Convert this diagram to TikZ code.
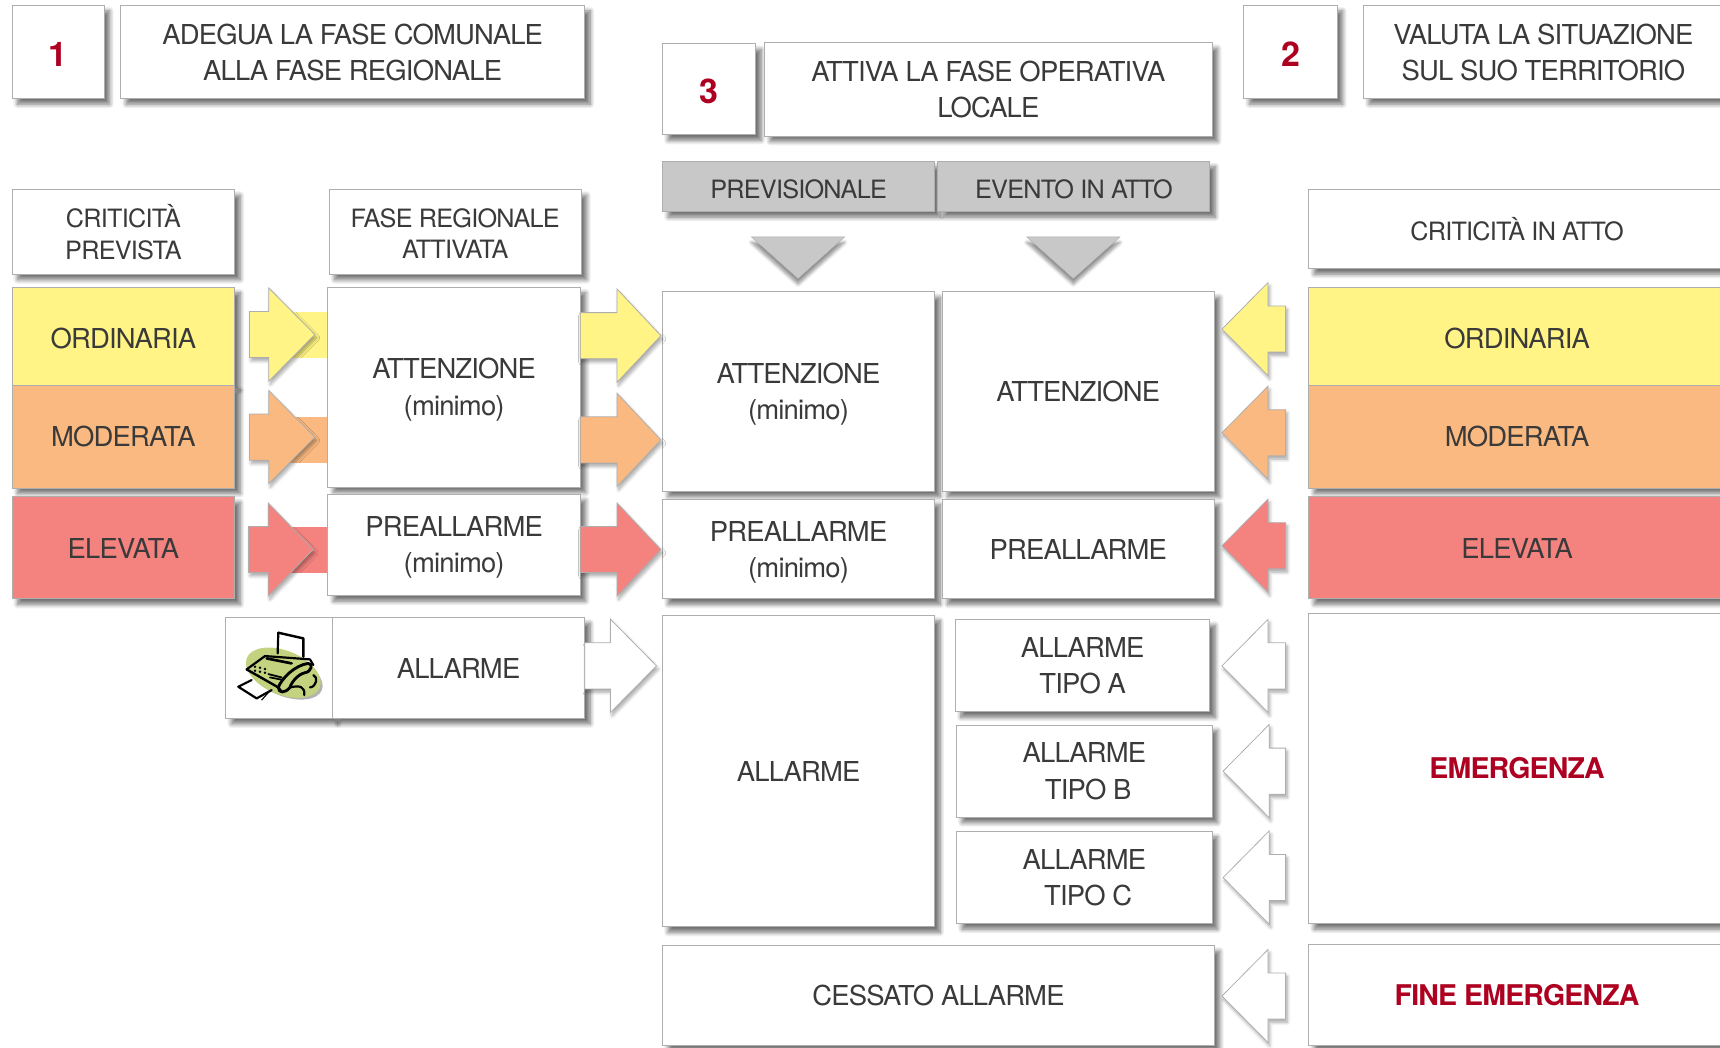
\documentclass[tikz,border=0pt]{standalone}
\usepackage{fontspec}
\setmainfont{TeX Gyre Heros}[LetterSpace=-3]
\usetikzlibrary{calc,shadows.blur}
\definecolor{edge}{HTML}{AEAEAE}
\definecolor{ink}{HTML}{3A3A3A}
\definecolor{hot}{HTML}{AE0020}
\definecolor{yel}{HTML}{FFF485}
\definecolor{ora}{HTML}{FAB980}
\definecolor{rdd}{HTML}{F4827F}
\definecolor{gre}{HTML}{C8C8C8}
\definecolor{fax}{HTML}{C3D27E}
\newcommand\dn[1]{\rule{0pt}{\dimexpr 18pt+#1pt*2\relax}}
\tikzset{
  softshadow/.style={blur shadow={shadow xshift=5pt,shadow yshift=-5pt,shadow blur radius=4pt,shadow blur steps=8,shadow opacity=55,shadow scale=1}},
  faintshadow/.style={blur shadow={shadow xshift=1.5pt,shadow yshift=-3pt,shadow blur radius=3pt,shadow blur steps=6,shadow opacity=35,shadow scale=1}},
  downshadow/.style={blur shadow={shadow xshift=0pt,shadow yshift=-5pt,shadow blur radius=3pt,shadow blur steps=6,shadow opacity=45,shadow scale=1}},
  box/.style={draw=edge,line width=.9pt,fill=white,softshadow,inner sep=0pt,outer sep=0pt,anchor=north west,text=ink,align=center,font=\fontsize{25}{33}\selectfont},
  small/.style={font=\fontsize{23}{29}\selectfont},
  num/.style={text=hot,font=\fontsize{31}{33}\bfseries\selectfont},
  alert/.style={text=hot,font=\fontsize{26}{33}\bfseries\selectfont},
  yelbox/.style={fill=yel},
  orabox/.style={fill=ora},
  rddbox/.style={fill=rdd},
  grebox/.style={fill=gre},
  blockarrow/.style={draw=edge,line width=.7pt,faintshadow},
}
\newcommand\bx[7][]{\node[box,#1,minimum width={(#4-#2)*1pt},minimum height={(#5-#3)*1pt}] (#6) at (#2,#3) {#7};}
% colour, from, to, y, signed neck length, half head height
\newcommand\barrow[6]{%
  \coordinate (s) at (#2);\coordinate (e) at (#3);\coordinate (n) at ($(e)+(#5,0)$);
  \draw[blockarrow,fill=#1] (s |- 0,#4-21) -- (n |- 0,#4-21) -- (n |- 0,#4-#6) -- (e |- 0,#4) -- (n |- 0,#4+#6) -- (n |- 0,#4+21) -- (s |- 0,#4+21) -- cycle;}
\begin{document}
\begin{tikzpicture}[x=1pt,y=-1pt]
\useasboundingbox (0,0) rectangle (1568,955);
% top headings
\bx[num]{11}{5}{95}{90}{n1}{\rule{0pt}{26pt}1}
\bx{110}{5}{533}{90}{t1}{\dn{.5}ADEGUA LA FASE COMUNALE\\ALLA FASE REGIONALE}
\bx[num]{604}{40}{689}{123}{n3}{\rule{0pt}{26pt}3}
\bx{697}{39}{1105}{124}{t3}{ATTIVA LA FASE OPERATIVA\\LOCALE}
\bx[num]{1134}{5}{1219}{90}{n2}{\rule{0pt}{26pt}2}
\bx{1243}{5}{1571}{90}{t2}{\dn{.5}VALUTA LA SITUAZIONE\\SUL SUO TERRITORIO}
\bx[grebox,small]{604}{147}{852}{193}{prev}{\dn{2}PREVISIONALE}
\bx[grebox,small]{855}{147}{1103}{193}{evat}{\dn{2}EVENTO IN ATTO}
\draw[draw=edge,fill=gre,downshadow] (685,216) -- (770,216) -- (727.5,254) -- cycle;
\draw[draw=edge,fill=gre,downshadow] (936,216) -- (1021,216) -- (978.5,254) -- cycle;
% left column
\bx[small]{11}{173}{214}{250}{lhead}{CRITICITÀ\\PREVISTA}
\bx[yelbox]{11}{262}{214}{351}{lo}{\dn{2}ORDINARIA}
\bx[orabox]{11}{351}{214}{445}{lm}{MODERATA}
\bx[rddbox]{11}{453}{214}{546}{le}{\dn{1}ELEVATA}
% regional column: shafts first
\fill[yel] (262,284.5) rectangle (300,326);
\fill[ora] (262,380) rectangle (300,422);
\fill[rdd] (262,480) rectangle (300,522);
\bx[small]{300}{173}{530}{250}{rhead}{\dn{1}FASE REGIONALE\\ATTIVATA}
\bx{299}{262}{529}{444}{ra}{\dn{2.5}ATTENZIONE\\(minimo)}
\bx{299}{451}{529}{543}{rp}{\dn{2.5}PREALLARME\\(minimo)}
\bx{206}{563}{303}{655}{rf}{}
\bx{303}{563}{533}{655}{rl}{ALLARME}
% middle
\bx{604}{266}{852}{448}{ma}{\dn{3}ATTENZIONE\\(minimo)}
\bx{859}{266}{1107}{448}{na}{ATTENZIONE}
\bx{604}{455}{852}{546}{mp}{\dn{3}PREALLARME\\(minimo)}
\bx{859}{455}{1107}{546}{np}{PREALLARME}
\bx{604}{561}{852}{845}{ml}{ALLARME}
\bx{871}{565}{1103}{649}{nA}{ALLARME\\TIPO A}
\bx{872}{661}{1105}{745}{nB}{ALLARME\\\hspace*{7pt}TIPO B}
\bx{872}{758}{1105}{842}{nC}{ALLARME\\\hspace*{7pt}TIPO C}
\bx{604}{862}{1107}{953}{ce}{CESSATO ALLARME}
% right column
\bx[small]{1193}{173}{1573}{245}{xhead}{CRITICITÀ IN ATTO}
\bx[yelbox]{1193}{262}{1573}{351}{xo}{\dn{2}ORDINARIA}
\bx[orabox]{1193}{351}{1573}{445}{xm}{MODERATA}
\bx[rddbox]{1193}{453}{1573}{546}{xe}{\dn{1}ELEVATA}
\bx[alert]{1193}{559}{1573}{842}{xg}{EMERGENZA}
\bx[alert]{1193}{861}{1573}{953}{xf}{FINE EMERGENZA}
% block arrows
\barrow{yel}{$(lo.east)+(13.5,0)$}{$(ra.west)+(-12,0)$}{305}{-42}{42.5}
\barrow{ora}{$(lm.east)+(13.5,0)$}{$(ra.west)+(-12,0)$}{398.5}{-42}{42.5}
\barrow{rdd}{$(le.east)+(12.5,0)$}{$(rp.west)+(-13.5,0)$}{501}{-41}{42.5}
\barrow{yel}{ra.east}{$(ma.west)+(-1.5,0)$}{306}{-40}{42.5}
\barrow{ora}{ra.east}{$(ma.west)+(-1.5,0)$}{401}{-40}{42.5}
\barrow{rdd}{rp.east}{$(mp.west)+(-1.5,0)$}{501}{-40}{42.5}
\barrow{white}{rl.east}{$(ml.west)+(-5.5,0)$}{607}{-42}{42.5}
\barrow{yel}{$(xo.west)+(-21,0)$}{$(na.east)+(7,0)$}{300}{42}{42.5}
\barrow{ora}{$(xm.west)+(-21,0)$}{$(na.east)+(7,0)$}{394.5}{42}{42.5}
\barrow{rdd}{$(xe.west)+(-21,0)$}{$(np.east)+(7,0)$}{497.5}{42}{42.5}
\barrow{white}{$(xg.west)+(-21,0)$}{$(nA.east)+(11,0)$}{607}{42}{42.5}
\barrow{white}{$(xg.west)+(-21,0)$}{$(nB.east)+(10,0)$}{703}{42}{42.5}
\barrow{white}{$(xg.west)+(-21,0)$}{$(nC.east)+(10,0)$}{800}{42}{42.5}
\barrow{white}{$(xf.west)+(-21,0)$}{$(ce.east)+(7,0)$}{908}{42}{42.5}
% fax icon
\begin{scope}[shift={(191.4,547)},scale=.304,line width=1.5pt,line join=round,line cap=round]
\fill[black!30,rotate around={-22:(226,226)}] (226,226) ellipse [x radius=118,y radius=62];
\fill[fax,rotate around={-22:(220,218)}] (220,218) ellipse [x radius=118,y radius=66];
\draw[line width=2.2pt] (205,98) -- (280,115) -- (280,170);
\draw[line width=2pt] (205,98) -- (203,160);
\draw[line width=2pt] (110,208) -- (165,168) -- (300,178) -- (310,195);
\draw[line width=2.2pt] (110,208) -- (205,262) -- (215,275);
\draw[line width=2.4pt] (170,175) -- (245,190);
\draw[line width=1.6pt] (175,222) -- (215,232) (180,232) -- (220,240);
\foreach \p in {(135,200),(150,203),(165,207),(135,212),(150,215),(165,218)} \fill \p circle (4);
\draw[line width=2.6pt] (205,262) .. controls (215,235) and (255,195) .. (295,190) .. controls (310,190) and (305,215) .. (285,218) .. controls (265,222) and (245,245) .. (240,262) .. controls (225,280) and (205,280) .. (205,262);
\draw[line width=2pt] (240,262) .. controls (270,255) and (285,260) .. (283,285) (310,225) .. controls (325,230) and (320,260) .. (300,262);
\draw[line width=2pt] (125,240) -- (85,260) -- (140,295) -- (185,270);
\draw[line width=1pt] (155,300) -- (180,272);
\end{scope}
\end{tikzpicture}
\end{document}
